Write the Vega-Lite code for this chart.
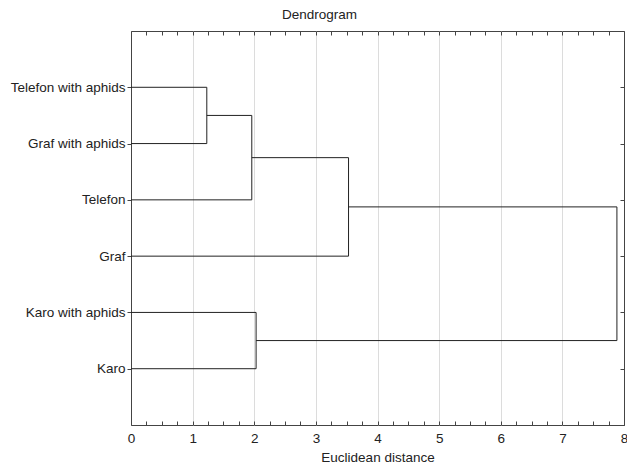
{
  "$schema": "https://vega.github.io/schema/vega-lite/v6.json",
  "width": 493,
  "height": 394,
  "autosize": {"type": "none"},
  "padding": {"left": 131, "top": 31, "right": 3, "bottom": 46},
  "background": "white",
  "title": {"text": "Dendrogram", "fontSize": 13.5, "fontWeight": "normal", "font": "Liberation Sans", "offset": 9, "color": "#222", "anchor": "middle", "dx": -58},
  "config": {
    "view": {"stroke": "#444", "strokeWidth": 1},
    "axis": {"labelFont": "Liberation Sans", "titleFont": "Liberation Sans", "labelFontSize": 13.5, "titleFontSize": 13.5, "titleFontWeight": "normal", "labelColor": "#222", "titleColor": "#222", "domain": false, "tickColor": "#444"}
  },
  "data": {"values": [
    {"x": 0, "x2": 1.23, "y": 1, "y2": 1},
    {"x": 0, "x2": 1.23, "y": 2, "y2": 2},
    {"x": 1.23, "x2": 1.23, "y": 1, "y2": 2},
    {"x": 1.23, "x2": 1.96, "y": 1.5, "y2": 1.5},
    {"x": 0, "x2": 1.96, "y": 3, "y2": 3},
    {"x": 1.96, "x2": 1.96, "y": 1.5, "y2": 3},
    {"x": 1.96, "x2": 3.53, "y": 2.25, "y2": 2.25},
    {"x": 0, "x2": 3.53, "y": 4, "y2": 4},
    {"x": 3.53, "x2": 3.53, "y": 2.25, "y2": 4},
    {"x": 3.53, "x2": 7.885, "y": 3.125, "y2": 3.125},
    {"x": 0, "x2": 2.03, "y": 5, "y2": 5},
    {"x": 0, "x2": 2.03, "y": 6, "y2": 6},
    {"x": 2.03, "x2": 2.03, "y": 5, "y2": 6},
    {"x": 2.03, "x2": 7.885, "y": 5.5, "y2": 5.5},
    {"x": 7.885, "x2": 7.885, "y": 3.125, "y2": 5.5}
  ]},
  "layer": [
    {
      "mark": {"type": "rule", "color": "#222", "strokeWidth": 1},
      "encoding": {
        "x": {"field": "x", "type": "quantitative", "scale": {"domain": [0, 8], "nice": false, "zero": false},
          "axis": {"orient": "bottom", "title": "Euclidean distance", "format": "~g", "values": [0,0.25,0.5,0.75,1,1.25,1.5,1.75,2,2.25,2.5,2.75,3,3.25,3.5,3.75,4,4.25,4.5,4.75,5,5.25,5.5,5.75,6,6.25,6.5,6.75,7,7.25,7.5,7.75,8],
            "labelExpr": "datum.value % 1 === 0 ? datum.label : ''", "labelOverlap": false, "labelFlush": false,
            "tickSize": -4, "labelPadding": 10, "titlePadding": 6,
            "grid": true, "gridColor": {"condition": {"test": "datum.value % 1 === 0 && datum.value > 0 && datum.value < 8", "value": "#dcdcdc"}, "value": "transparent"}}},
        "x2": {"field": "x2"},
        "y": {"field": "y", "type": "quantitative", "scale": {"domain": [0, 7], "reverse": true, "nice": false, "zero": false},
          "axis": {"orient": "left", "title": null, "values": [1,2,3,4,5,6], "ticks": true, "tickSize": 4, "grid": false, "labelPadding": 2,
            "labelExpr": "datum.value == 1 ? 'Telefon with aphids' : datum.value == 2 ? 'Graf with aphids' : datum.value == 3 ? 'Telefon' : datum.value == 4 ? 'Graf' : datum.value == 5 ? 'Karo with aphids' : 'Karo'"}},
        "y2": {"field": "y2"}
      }
    },
    {
      "mark": {"type": "rule", "opacity": 0},
      "encoding": {
        "x": {"field": "x", "type": "quantitative", "scale": {"domain": [0, 8], "nice": false, "zero": false},
          "axis": {"orient": "top", "title": null, "labels": false, "grid": false, "tickSize": -4,
            "values": [0,0.25,0.5,0.75,1,1.25,1.5,1.75,2,2.25,2.5,2.75,3,3.25,3.5,3.75,4,4.25,4.5,4.75,5,5.25,5.5,5.75,6,6.25,6.5,6.75,7,7.25,7.5,7.75,8]}},
        "x2": {"field": "x2"},
        "y": {"field": "y", "type": "quantitative", "scale": {"domain": [0, 7], "reverse": true, "nice": false, "zero": false},
          "axis": {"orient": "right", "title": null, "labels": false, "grid": false, "tickSize": -4, "values": [1,2,3,4,5,6,7]}},
        "y2": {"field": "y2"}
      }
    }
  ],
  "resolve": {"axis": {"x": "independent", "y": "independent"}}
}
